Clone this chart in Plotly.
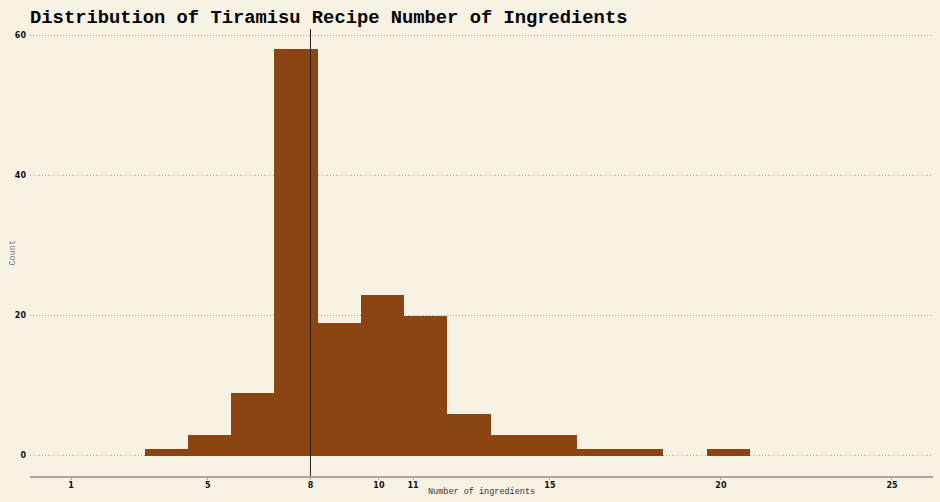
import plotly.graph_objects as go

# Histogram bins (ggplot-style: 20 bins over limits 1..25)
bin_width = 24 / 19
bin_index = [3, 4, 5, 6, 7, 8, 9, 10, 11, 12, 13, 14, 15, 16]
counts = [1, 3, 9, 58, 19, 23, 20, 6, 3, 3, 1, 1, 0, 1]
bin_centers = [k * bin_width for k in bin_index]

median_value = 8
x_ticks = [1, 5, 8, 10, 11, 15, 20, 25]
y_ticks = [0, 20, 40, 60]

BG = "#F8F2E4"
BAR = "#8B4513"
W, H = 940, 502
L, R, T, B = 30, 7, 29, 26

fig = go.Figure()
fig.add_trace(go.Bar(
    x=bin_centers, y=counts, width=bin_width,
    marker=dict(color=BAR, line=dict(width=0)),
    hoverinfo="x+y", showlegend=False,
))

fig.add_shape(type="line", xref="x", yref="paper", x0=median_value, x1=median_value,
              y0=0, y1=1, line=dict(color="#222222", width=1))

mono = "Liberation Mono, Courier New, monospace"
sans = "DejaVu Sans, Verdana, sans-serif"

fig.add_annotation(text="Number of ingredients", xref="paper", yref="paper",
                   x=0.5, y=-(492 - (H - B)) / (H - T - B), xanchor="center", yanchor="middle",
                   showarrow=False, font=dict(family=mono, size=8.5, color="#333333"))
fig.add_annotation(text="Count", xref="paper", yref="paper", textangle=-90,
                   x=-(L - 12) / (W - L - R), y=0.5, xanchor="center", yanchor="middle",
                   showarrow=False, font=dict(family=mono, size=8.5, color="#777777"))

fig.update_layout(
    width=W, height=H,
    paper_bgcolor=BG, plot_bgcolor=BG,
    margin=dict(l=L, r=R, t=T, b=B, autoexpand=False),
    bargap=0,
    title=dict(text="<b>Distribution of Tiramisu Recipe Number of Ingredients</b>",
               x=0.032, xanchor="left", y=1 - 10 / H, yanchor="top",
               pad=dict(l=0, t=0, b=0, r=0),
               font=dict(family=mono, size=18.8, color="#000000")),
    xaxis=dict(
        range=[-0.2, 26.2], tickvals=x_ticks, ticktext=[f"<b>{v}</b>" for v in x_ticks],
        showgrid=False, zeroline=False, automargin=False,
        showline=True, linecolor="#a8a8a0", linewidth=2,
        ticks="outside", ticklen=2, tickcolor="#a8a8a0", tickwidth=1,
        ticklabelstandoff=-2,
        tickfont=dict(family=sans, size=8, color="#111111"),
    ),
    yaxis=dict(
        range=[-2.9, 60.9], tickvals=y_ticks, ticktext=[f"<b>{v}</b>" for v in y_ticks],
        showgrid=True, gridcolor="#aaa69c", griddash="1px,2px", gridwidth=1,
        zeroline=False, showline=False, ticks="", automargin=False,
        ticklabelstandoff=3,
        tickfont=dict(family=sans, size=8, color="#111111"),
    ),
)

fig.write_html(
    "out.html",
    config={"displayModeBar": False},
    post_script="document.body.style.margin='0';document.body.style.background='%s';" % BG,
)
